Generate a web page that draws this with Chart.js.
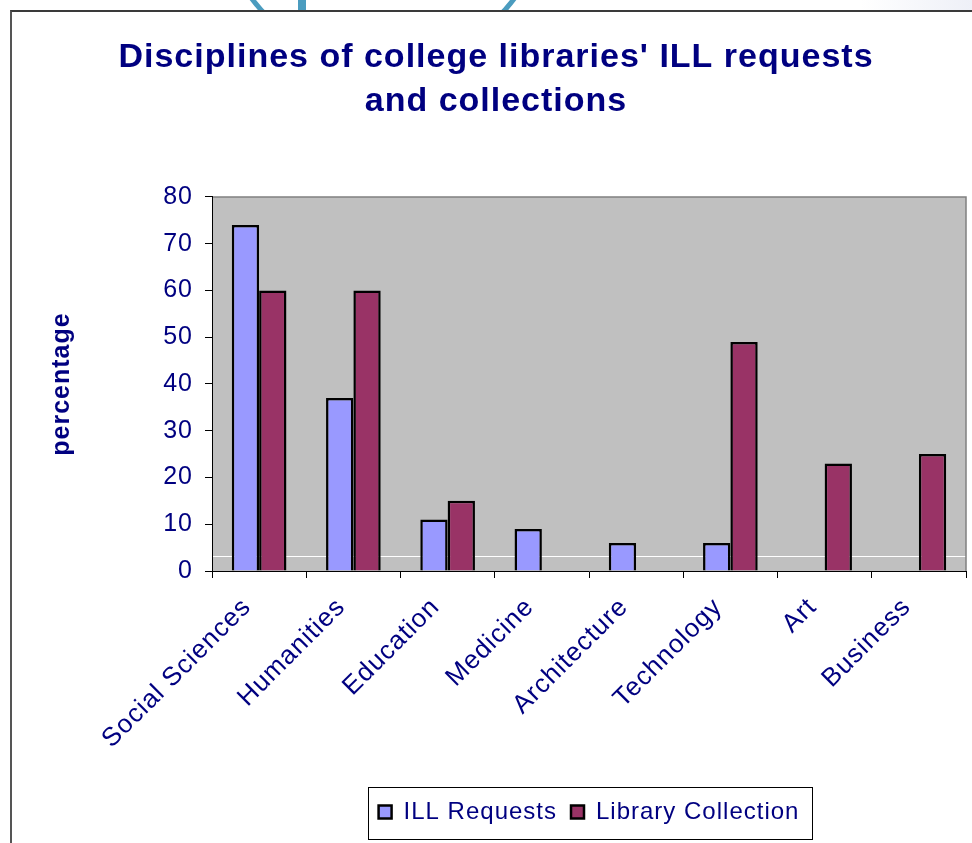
<!DOCTYPE html>
<html>
<head>
<meta charset="utf-8">
<script src="https://cdn.jsdelivr.net/npm/chart.js@4.4.1/dist/chart.umd.min.js"></script>
<style>
  html, body { margin: 0; padding: 0; background: #fff; overflow: hidden; width: 972px; height: 843px; }
  .deco-ring { position: absolute; left: 217px; top: -265px; width: 332px; height: 332px; border: 5px solid #4b9cbf; border-radius: 50%; box-sizing: border-box; }
  .deco-bar { position: absolute; left: 298px; top: 0; width: 8px; height: 12px; background: #4b9cbf; }
  .deco-glow { position: absolute; left: 860px; top: 0; width: 112px; height: 12px; background: linear-gradient(90deg, #fff, #eef0f7); }
  .frame { position: absolute; left: 10px; top: 10px; width: 990px; height: 860px; background: #fff; border-left: 2px solid #555; border-top: 2px solid #3a3a3a; }
  canvas { position: absolute; left: 0; top: 0; }
</style>
</head>
<body>
<div class="deco-ring"></div>
<div class="deco-bar"></div>
<div class="deco-glow"></div>
<div class="frame"></div>
<canvas id="chart" width="972" height="843"></canvas>

<script>
// chart data
const categories = ['Social Sciences', 'Humanities', 'Education', 'Medicine', 'Architecture', 'Technology', 'Art', 'Business']
const illRequests = [74, 37, 11, 9, 6, 6, null, null]
const libraryCollection = [60, 60, 15, null, null, 49, 23, 25]
const yMin = 0
const yMax = 80
const yStep = 10
const whiteLineValue = 3.2

const navy = '#000080'
Chart.defaults.font.family = "'Liberation Sans', Arial, sans-serif"

// a little letter spacing, like the original rendering
const textSpacing = {
  id: 'textSpacing',
  beforeUpdate(chart){ chart.ctx.letterSpacing = '1px' },
  beforeDraw(chart){
    const {ctx, chartArea: a, scales: {y}} = chart
    ctx.letterSpacing = '1px'
    // grey plot area
    ctx.save()
    ctx.fillStyle = '#c0c0c0'
    ctx.fillRect(a.left, a.top, a.right - a.left, a.bottom - a.top)
    // thin white line near the bottom
    const wy = Math.round(y.getPixelForValue(whiteLineValue)) + 0.5
    ctx.strokeStyle = '#fff'
    ctx.lineWidth = 1
    ctx.beginPath()
    ctx.moveTo(a.left, wy)
    ctx.lineTo(a.right, wy)
    ctx.stroke()
    // top + right frame of the plot
    ctx.strokeStyle = '#808080'
    ctx.lineWidth = 1.5
    ctx.beginPath()
    ctx.moveTo(a.left, a.top)
    ctx.lineTo(a.right, a.top)
    ctx.lineTo(a.right, a.bottom)
    ctx.stroke()
    ctx.restore()
  }
}

// box round the legend
const legendFrame = {
  id: 'legendFrame',
  afterDraw(chart){
    const lg = chart.legend
    const boxes = lg.legendHitBoxes
    if(!boxes || !boxes.length) return
    const left = Math.min(...boxes.map(b => b.left)) - 11
    const right = Math.max(...boxes.map(b => b.left + b.width)) + 12
    const ctx = chart.ctx
    ctx.save()
    ctx.strokeStyle = '#000'
    ctx.lineWidth = 1
    ctx.strokeRect(Math.round(left) + 0.5, Math.round(lg.top) + 1.5, Math.round(right - left), 52)
    ctx.restore()
  }
}

new Chart(document.getElementById('chart'), {
  type: 'bar',
  data: {
    labels: categories,
    datasets: [
      {
        label: 'ILL Requests',
        data: illRequests,
        backgroundColor: '#9999ff',
        borderColor: '#000',
        borderWidth: 2.5
      },
      {
        label: 'Library Collection',
        data: libraryCollection,
        backgroundColor: '#993366',
        borderColor: '#000',
        borderWidth: 2.5
      }
    ]
  },
  options: {
    responsive: false,
    animation: false,
    devicePixelRatio: 1,
    datasets: { bar: { barPercentage: 1, categoryPercentage: 0.58 } },
    layout: { padding: { left: 26, right: 6, top: 0, bottom: 9 } },
    plugins: {
      title: {
        display: true,
        text: ["Disciplines of college libraries' ILL requests", 'and collections'],
        color: navy,
        font: { size: 34, weight: 'bold', lineHeight: 1.294 },
        padding: { top: 36, bottom: 73 }
      },
      legend: {
        position: 'bottom',
        fullSize: false,
        labels: {
          color: navy,
          font: { size: 24 },
          boxWidth: 13,
          boxHeight: 13,
          padding: 14
        }
      },
      tooltip: { enabled: false }
    },
    scales: {
      x: {
        grid: { offset: true, drawOnChartArea: false, color: '#000', tickLength: 7 },
        border: { color: '#000', width: 1 },
        ticks: {
          color: navy,
          font: { size: 26 },
          minRotation: 45,
          maxRotation: 45,
          autoSkip: false,
          labelOffset: -12,
          padding: 14
        },
        afterFit(s){ s.height = 215 }
      },
      y: {
        min: yMin,
        max: yMax,
        ticks: { stepSize: yStep, color: navy, font: { size: 25 }, padding: 12 },
        grid: { drawOnChartArea: false, color: '#000', tickLength: 7 },
        border: { color: '#000', width: 1 },
        title: {
          display: true,
          text: 'percentage',
          color: navy,
          font: { size: 25, weight: 'bold' },
          padding: { top: 21, bottom: 0 }
        },
        afterFit(s){ s.width = 186 }
      }
    }
  },
  plugins: [textSpacing, legendFrame]
})
</script>
</body>
</html>
